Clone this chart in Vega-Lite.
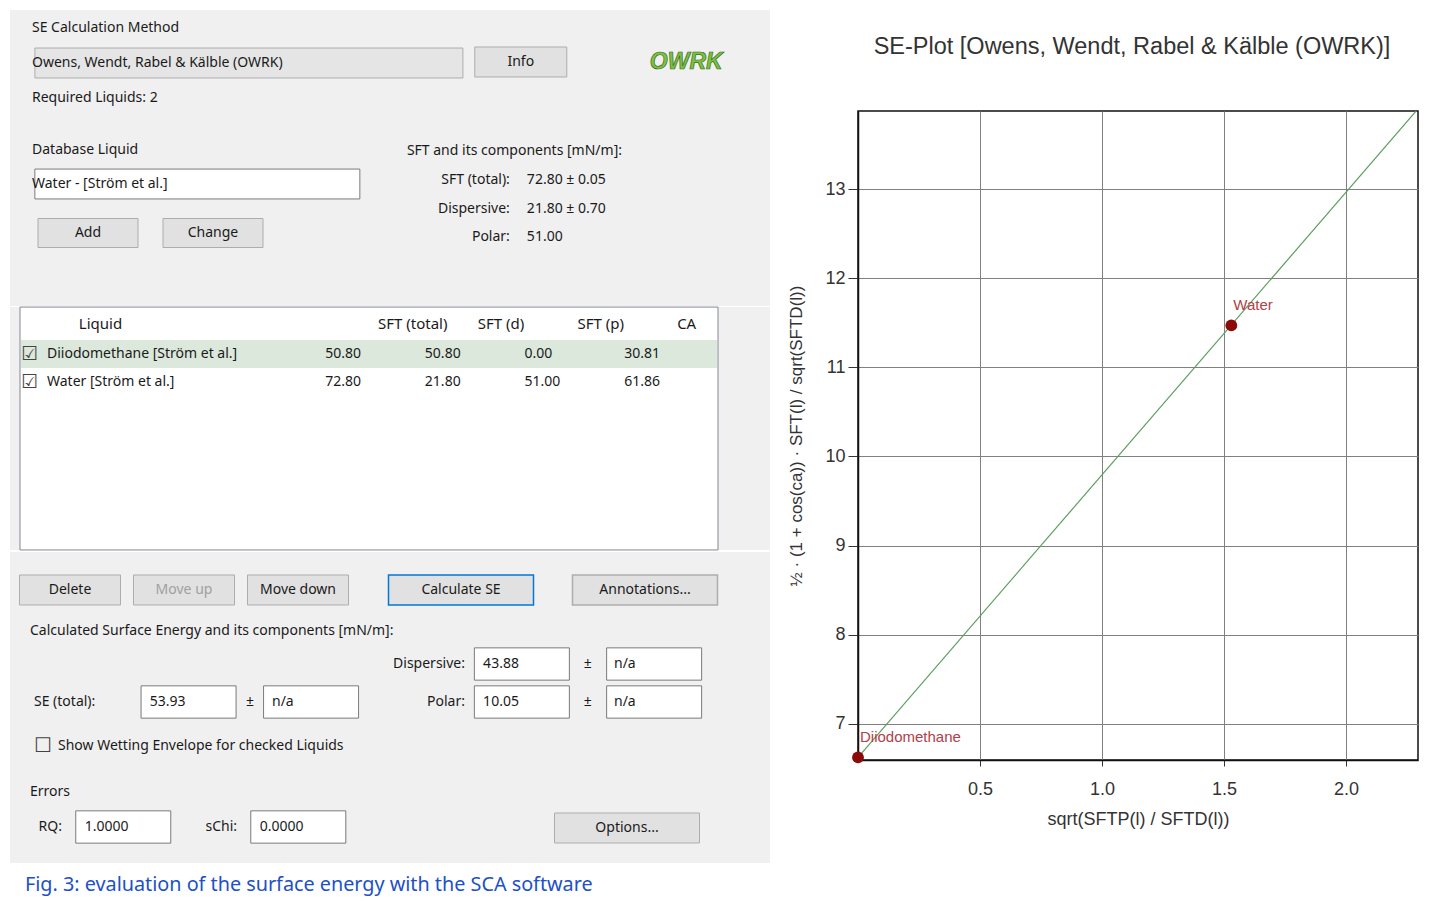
{
  "$schema": "https://vega.github.io/schema/vega-lite/v6.json",
  "background": "white",
  "padding": {"left": 10, "top": 10, "right": 0, "bottom": 6},
  "config": {
    "view": {"stroke": null},
    "text": {"font": "Noto Sans", "fontSize": 14, "color": "#1a1a1a", "baseline": "middle"}
  },
  "title": {
    "text": "Fig. 3: evaluation of the surface energy with the SCA software",
    "orient": "bottom", "anchor": "start", "dx": 15, "offset": 12,
    "font": "Noto Sans", "fontSize": 19.8, "fontWeight": "normal", "color": "#2050c8"
  },
  "datasets": {
    "panels": [
      {"panel": "SE Calculation Method", "side": "left", "text": "SE Calculation Method"},
      {"panel": "SE Calculation Method", "side": "left", "text": "Owens, Wendt, Rabel & Kälble (OWRK)"},
      {"panel": "SE Calculation Method", "side": "left", "text": "Required Liquids: 2"},
      {"panel": "Database Liquid", "side": "left", "text": "Database Liquid"},
      {"panel": "Database Liquid", "side": "left", "text": "Water - [Ström et al.]"}
    ],
    "sft": [
      {"component": "SFT (total):", "value": "72.80 ± 0.05"},
      {"component": "Dispersive:", "value": "21.80 ± 0.70"},
      {"component": "Polar:", "value": "51.00"}
    ],
    "liquids": [
      {"Liquid": "Diiodomethane [Ström et al.]", "SFT (total)": 50.8, "SFT (d)": 50.8, "SFT (p)": 0.0, "CA": 30.81, "checked": true, "selected": true},
      {"Liquid": "Water [Ström et al.]", "SFT (total)": 72.8, "SFT (d)": 21.8, "SFT (p)": 51.0, "CA": 61.86, "checked": true, "selected": false}
    ],
    "se": [
      {"group": "total", "component": "SE (total):", "value": 53.93, "error": "n/a"},
      {"group": "components", "component": "Dispersive:", "value": 43.88, "error": "n/a"},
      {"group": "components", "component": "Polar:", "value": 10.05, "error": "n/a"}
    ],
    "errors": [
      {"metric": "RQ:", "value": 1.0},
      {"metric": "sChi:", "value": 0.0}
    ],
    "listButtons": [
      {"button": "Delete", "enabled": true},
      {"button": "Move up", "enabled": false},
      {"button": "Move down", "enabled": true}
    ],
    "actionButtons": [
      {"button": "Calculate SE", "default": true},
      {"button": "Annotations...", "default": false}
    ],
    "fit": [
      {"x": 0.0, "y": 6.625},
      {"x": 2.3, "y": 13.915}
    ],
    "points": [
      {"liquid": "Diiodomethane", "x": 0.0, "y": 6.625},
      {"liquid": "Water", "x": 1.53, "y": 11.47}
    ]
  },
  "spacing": 17,
  "hconcat": [
    {
      "spacing": -1,
      "vconcat": [
        {
          "width": 760, "height": 296,
          "view": {"fill": "#f0f0f0", "stroke": null},
          "resolve": {"scale": {"x": "independent", "y": "independent"}},
          "layer": [
            {
              "data": {"name": "panels"},
              "transform": [{"filter": "datum.text === 'Owens, Wendt, Rabel & Kälble (OWRK)'"}],
              "mark": {"type": "point", "shape": "M-1,-0.07L1,-0.07L1,0.07L-1,0.07Z", "size": 183184, "filled": true, "fill": "#e5e5e5", "stroke": "#adadad", "strokeWidth": 1, "opacity": 1},
              "encoding": {
                "x": {"field": "side", "type": "nominal", "bandPosition": 0.946, "axis": null,
                      "scale": {"type": "band", "domain": ["left", "right"], "range": [10, 708], "paddingInner": 0.358, "paddingOuter": 0.105, "align": 0}},
                "y": {"field": "text", "type": "nominal", "axis": null,
                      "scale": {"type": "band", "range": [35.3, 70.7], "paddingInner": 0, "paddingOuter": 0}}
              }
            },
            {
              "data": {"name": "panels"},
              "transform": [{"filter": "datum.text === 'Water - [Ström et al.]'"}],
              "mark": {"type": "point", "shape": "M-1,-0.092L1,-0.092L1,0.092L-1,0.092Z", "size": 105625, "filled": true, "fill": "white", "stroke": "#7a7a7a", "strokeWidth": 1, "opacity": 1},
              "encoding": {
                "x": {"field": "side", "type": "nominal", "bandPosition": 0.733, "axis": null,
                      "scale": {"type": "band", "domain": ["left", "right"], "range": [10, 708], "paddingInner": 0.358, "paddingOuter": 0.105, "align": 0}},
                "y": {"field": "text", "type": "nominal", "axis": null,
                      "scale": {"type": "band", "range": [157, 191], "paddingInner": 0, "paddingOuter": 0}}
              }
            },
            {
              "data": {"values": [{"button": "Info"}]},
              "mark": {"type": "point", "shape": "M-1,-0.326L1,-0.326L1,0.326L-1,0.326Z", "size": 8464, "filled": true, "fill": "#e1e1e1", "stroke": "#adadad", "strokeWidth": 1, "opacity": 1},
              "encoding": {
                "x": {"datum": "right", "type": "nominal", "bandPosition": 0.512, "axis": null,
                      "scale": {"type": "band", "domain": ["left", "right"], "range": [10, 708], "paddingInner": 0.358, "paddingOuter": 0.105, "align": 0}},
                "y": {"field": "button", "type": "nominal", "axis": null,
                      "scale": {"type": "band", "range": [37, 67], "paddingInner": 0, "paddingOuter": 0}}
              }
            },
            {
              "data": {"values": [{"button": "Info"}]},
              "mark": {"type": "text", "align": "center"},
              "encoding": {
                "x": {"datum": "right", "type": "nominal", "bandPosition": 0.512, "axis": null,
                      "scale": {"type": "band", "domain": ["left", "right"], "range": [10, 708], "paddingInner": 0.358, "paddingOuter": 0.105, "align": 0}},
                "y": {"field": "button", "type": "nominal", "axis": null,
                      "scale": {"type": "band", "range": [37, 67], "paddingInner": 0, "paddingOuter": 0}},
                "text": {"field": "button"}
              }
            },
            {
              "data": {"values": [{"button": "Add"}, {"button": "Change"}]},
              "mark": {"type": "point", "shape": "M-1,-0.29L1,-0.29L1,0.29L-1,0.29Z", "size": 10000, "filled": true, "fill": "#e1e1e1", "stroke": "#adadad", "strokeWidth": 1, "opacity": 1},
              "encoding": {
                "x": {"field": "button", "type": "nominal", "sort": null, "bandPosition": 0.5, "axis": null,
                      "scale": {"type": "band", "range": [15.5, 265.5], "paddingInner": 0, "paddingOuter": 0}},
                "y": {"datum": "db", "type": "nominal", "axis": null,
                      "scale": {"type": "band", "domain": ["db"], "range": [208, 238], "paddingInner": 0, "paddingOuter": 0}}
              }
            },
            {
              "data": {"values": [{"button": "Add"}, {"button": "Change"}]},
              "mark": {"type": "text", "align": "center"},
              "encoding": {
                "x": {"field": "button", "type": "nominal", "sort": null, "bandPosition": 0.5, "axis": null,
                      "scale": {"type": "band", "range": [15.5, 265.5], "paddingInner": 0, "paddingOuter": 0}},
                "y": {"datum": "db", "type": "nominal", "axis": null,
                      "scale": {"type": "band", "domain": ["db"], "range": [208, 238], "paddingInner": 0, "paddingOuter": 0}},
                "text": {"field": "button"}
              }
            },
            {
              "data": {"name": "panels"},
              "transform": [{"filter": "datum.panel === 'SE Calculation Method'"}],
              "mark": {"type": "text", "align": "left", "dx": 12},
              "encoding": {
                "x": {"field": "side", "type": "nominal", "bandPosition": 0, "axis": null,
                      "scale": {"type": "band", "domain": ["left", "right"], "range": [10, 708], "paddingInner": 0.358, "paddingOuter": 0.105, "align": 0}},
                "y": {"field": "text", "type": "nominal", "sort": null, "axis": null,
                      "scale": {"type": "band", "range": [0, 106], "paddingInner": 0, "paddingOuter": 0}},
                "text": {"field": "text"}
              }
            },
            {
              "data": {"name": "panels"},
              "transform": [{"filter": "datum.panel === 'Database Liquid'"}],
              "mark": {"type": "text", "align": "left", "dx": 12},
              "encoding": {
                "x": {"field": "side", "type": "nominal", "bandPosition": 0, "axis": null,
                      "scale": {"type": "band", "domain": ["left", "right"], "range": [10, 708], "paddingInner": 0.358, "paddingOuter": 0.105, "align": 0}},
                "y": {"field": "text", "type": "nominal", "sort": null, "axis": null,
                      "scale": {"type": "band", "range": [123, 191], "paddingInner": 0, "paddingOuter": 0}},
                "text": {"field": "text"}
              }
            },
            {
              "data": {"values": [{"heading": "SFT and its components [mN/m]:"}]},
              "mark": {"type": "text", "align": "left", "dx": 10},
              "encoding": {
                "x": {"datum": "right", "type": "nominal", "bandPosition": 0, "axis": null,
                      "scale": {"type": "band", "domain": ["left", "right"], "range": [10, 708], "paddingInner": 0.358, "paddingOuter": 0.105, "align": 0}},
                "y": {"field": "heading", "type": "nominal", "axis": null,
                      "scale": {"type": "band", "range": [126, 156], "paddingInner": 0, "paddingOuter": 0}},
                "text": {"field": "heading"}
              }
            },
            {
              "data": {"name": "sft"},
              "mark": {"type": "text", "align": "right", "dx": -8},
              "encoding": {
                "x": {"datum": "right", "type": "nominal", "bandPosition": 0.5, "axis": null,
                      "scale": {"type": "band", "domain": ["left", "right"], "range": [10, 708], "paddingInner": 0.358, "paddingOuter": 0.105, "align": 0}},
                "y": {"field": "component", "type": "nominal", "sort": null, "axis": null,
                      "scale": {"type": "band", "range": [155.75, 241.25], "paddingInner": 0, "paddingOuter": 0}},
                "text": {"field": "component"}
              }
            },
            {
              "data": {"name": "sft"},
              "mark": {"type": "text", "align": "left", "dx": 9},
              "encoding": {
                "x": {"datum": "right", "type": "nominal", "bandPosition": 0.5, "axis": null,
                      "scale": {"type": "band", "domain": ["left", "right"], "range": [10, 708], "paddingInner": 0.358, "paddingOuter": 0.105, "align": 0}},
                "y": {"field": "component", "type": "nominal", "sort": null, "axis": null,
                      "scale": {"type": "band", "range": [155.75, 241.25], "paddingInner": 0, "paddingOuter": 0}},
                "text": {"field": "value"}
              }
            },
            {
              "data": {"values": [{"logo": "OWRK"}]},
              "mark": {"type": "text", "align": "left", "dx": 11, "font": "Liberation Sans", "fontSize": 23,
                       "fontStyle": "italic", "fontWeight": "bold", "color": "#7cc242", "stroke": "#3a6e1c", "strokeWidth": 0.7},
              "encoding": {
                "x": {"datum": "right", "type": "nominal", "bandPosition": 1, "axis": null,
                      "scale": {"type": "band", "domain": ["left", "right"], "range": [10, 708], "paddingInner": 0.358, "paddingOuter": 0.105, "align": 0}},
                "y": {"field": "logo", "type": "nominal", "axis": null,
                      "scale": {"type": "band", "range": [37, 67], "paddingInner": 0, "paddingOuter": 0}},
                "text": {"field": "logo"}
              }
            }
          ]
        },
        {
          "width": 760, "height": 243,
          "view": {"fill": "#f0f0f0", "stroke": null},
          "data": {"name": "liquids"},
          "layer": [
            {
              "transform": [{"filter": "datum.selected"}],
              "mark": {"type": "point", "shape": "M-1,-0.348L1,-0.348L1,0.348L-1,0.348Z", "size": 487204, "filled": true, "fill": "white", "stroke": "#828790", "strokeWidth": 1, "opacity": 1},
              "encoding": {
                "x": {"datum": "SFT (total)", "type": "nominal", "bandPosition": 0.5,
                      "scale": {"type": "band", "domain": ["Liquid", "_pad1", "_pad2", "SFT (total)", "SFT (d)", "SFT (p)", "CA"], "range": [10, 708], "paddingInner": 0, "paddingOuter": 0}}
              }
            },
            {
              "transform": [{"filter": "datum.selected"}],
              "mark": {"type": "point", "shape": "M-1,-0.0402L1,-0.0402L1,0.0402L-1,0.0402Z", "size": 484416, "filled": true, "fill": "#dbe8db", "strokeWidth": 0, "opacity": 1},
              "encoding": {
                "x": {"datum": "SFT (total)", "type": "nominal", "bandPosition": 0.5},
                "y": {"field": "Liquid", "type": "nominal", "sort": null, "axis": null,
                      "scale": {"type": "band", "range": [33, 89], "paddingInner": 0, "paddingOuter": 0}}
              }
            },
            {
              "transform": [{"filter": "datum.checked"}],
              "mark": {"type": "text", "align": "left", "dx": 1, "fontSize": 19, "font": "DejaVu Sans", "color": "#444"},
              "encoding": {
                "x": {"datum": "Liquid", "type": "nominal", "bandPosition": 0},
                "y": {"field": "Liquid", "type": "nominal", "sort": null, "axis": null},
                "text": {"value": "☑"}
              }
            },
            {
              "mark": {"type": "text", "align": "left", "dx": 27},
              "encoding": {
                "x": {"datum": "Liquid", "type": "nominal", "bandPosition": 0},
                "y": {"field": "Liquid", "type": "nominal", "sort": null, "axis": null},
                "text": {"field": "Liquid"}
              }
            },
            {
              "transform": [{"fold": ["SFT (total)", "SFT (d)", "SFT (p)", "CA"], "as": ["column", "val"]}],
              "mark": {"type": "text", "align": "left", "dx": 6},
              "encoding": {
                "x": {"field": "column", "type": "nominal", "bandPosition": 0,
                      "scale": {"type": "band", "domain": ["Liquid", "_pad1", "_pad2", "SFT (total)", "SFT (d)", "SFT (p)", "CA"], "range": [10, 708], "paddingInner": 0, "paddingOuter": 0},
                      "axis": {"orient": "top", "values": ["Liquid", "SFT (total)", "SFT (d)", "SFT (p)", "CA"], "bandPosition": 0, "zindex": 2,
                               "labelAlign": "left", "labelBaseline": "middle", "labelAngle": 0, "labelPadding": -16, "labelOffset": 9,
                               "ticks": false, "domain": false, "title": null, "labelFont": "Noto Sans", "labelFontSize": 15, "labelColor": "#1a1a1a"}},
                "y": {"field": "Liquid", "type": "nominal", "sort": null, "axis": null},
                "text": {"field": "val", "type": "quantitative", "format": ".2f"}
              }
            }
          ]
        },
        {
          "width": 760, "height": 311,
          "view": {"fill": "#f0f0f0", "stroke": null},
          "resolve": {"scale": {"x": "independent", "y": "independent"}},
          "layer": [
            {
              "data": {"name": "listButtons"},
              "mark": {"type": "point", "shape": "M-1,-0.297L1,-0.297L1,0.297L-1,0.297Z", "size": 10201, "filled": true, "fill": "#e1e1e1", "stroke": "#adadad", "strokeWidth": 1, "opacity": 1},
              "encoding": {
                "x": {"field": "button", "type": "nominal", "sort": null, "bandPosition": 0.5, "axis": null, "scale": {"type": "band", "range": [3, 345], "paddingInner": 0, "paddingOuter": 0}},
                "y": {"datum": "buttons", "type": "nominal", "axis": null, "scale": {"type": "band", "domain": ["buttons"], "range": [23, 53], "paddingInner": 0, "paddingOuter": 0}}
              }
            },
            {
              "data": {"name": "listButtons"},
              "mark": {"type": "text", "align": "center"},
              "encoding": {
                "x": {"field": "button", "type": "nominal", "sort": null, "bandPosition": 0.5, "axis": null, "scale": {"type": "band", "range": [3, 345], "paddingInner": 0, "paddingOuter": 0}},
                "y": {"datum": "buttons", "type": "nominal", "axis": null, "scale": {"type": "band", "domain": ["buttons"], "range": [23, 53], "paddingInner": 0, "paddingOuter": 0}},
                "text": {"field": "button"},
                "color": {"condition": {"test": "datum.enabled === false", "value": "#a0a0a0"}, "value": "#1a1a1a"}
              }
            },
            {
              "data": {"name": "actionButtons"},
              "mark": {"type": "point", "shape": "M-1,-0.207L1,-0.207L1,0.207L-1,0.207Z", "size": 21025, "filled": true, "fill": "#e1e1e1", "strokeWidth": 1.5, "opacity": 1},
              "encoding": {
                "x": {"field": "button", "type": "nominal", "sort": null, "bandPosition": 0.5, "axis": null, "scale": {"type": "band", "range": [359, 727], "paddingInner": 0, "paddingOuter": 0}},
                "y": {"datum": "buttons", "type": "nominal", "axis": null, "scale": {"type": "band", "domain": ["buttons"], "range": [23, 53], "paddingInner": 0, "paddingOuter": 0}},
                "stroke": {"condition": {"test": "datum['default'] === true", "value": "#0078d7"}, "value": "#adadad"}
              }
            },
            {
              "data": {"name": "actionButtons"},
              "mark": {"type": "text", "align": "center"},
              "encoding": {
                "x": {"field": "button", "type": "nominal", "sort": null, "bandPosition": 0.5, "axis": null, "scale": {"type": "band", "range": [359, 727], "paddingInner": 0, "paddingOuter": 0}},
                "y": {"datum": "buttons", "type": "nominal", "axis": null, "scale": {"type": "band", "domain": ["buttons"], "range": [23, 53], "paddingInner": 0, "paddingOuter": 0}},
                "text": {"field": "button"}
              }
            },
            {
              "data": {"values": [{"button": "Options..."}]},
              "mark": {"type": "point", "shape": "M-1,-0.207L1,-0.207L1,0.207L-1,0.207Z", "size": 21025, "filled": true, "fill": "#e1e1e1", "stroke": "#adadad", "strokeWidth": 1, "opacity": 1},
              "encoding": {
                "x": {"field": "button", "type": "nominal", "bandPosition": 0.5, "axis": null, "scale": {"type": "band", "range": [544, 690], "paddingInner": 0, "paddingOuter": 0}},
                "y": {"field": "button", "type": "nominal", "axis": null, "scale": {"type": "band", "range": [261, 291], "paddingInner": 0, "paddingOuter": 0}}
              }
            },
            {
              "data": {"values": [{"button": "Options..."}]},
              "mark": {"type": "text", "align": "center"},
              "encoding": {
                "x": {"field": "button", "type": "nominal", "bandPosition": 0.5, "axis": null, "scale": {"type": "band", "range": [544, 690], "paddingInner": 0, "paddingOuter": 0}},
                "y": {"field": "button", "type": "nominal", "axis": null, "scale": {"type": "band", "range": [261, 291], "paddingInner": 0, "paddingOuter": 0}},
                "text": {"field": "button"}
              }
            },
            {
              "data": {"name": "se"},
              "transform": [{"filter": "datum.group === 'components'"}],
              "mark": {"type": "point", "shape": "M-1,-0.34L1,-0.34L1,0.34L-1,0.34Z", "size": 9025, "filled": true, "fill": "white", "stroke": "#7a7a7a", "strokeWidth": 1, "opacity": 1},
              "encoding": {
                "x": {"field": "group", "type": "nominal", "bandPosition": 0.438, "axis": null, "scale": {"type": "band", "domain": ["total", "components"], "range": [10, 708], "paddingInner": 0, "paddingOuter": 0}},
                "y": {"field": "component", "type": "nominal", "sort": null, "axis": null, "scale": {"type": "band", "range": [93, 169], "paddingInner": 0, "paddingOuter": 0}}
              }
            },
            {
              "data": {"name": "se"},
              "transform": [{"filter": "datum.group === 'components'"}],
              "mark": {"type": "point", "shape": "M-1,-0.34L1,-0.34L1,0.34L-1,0.34Z", "size": 9025, "filled": true, "fill": "white", "stroke": "#7a7a7a", "strokeWidth": 1, "opacity": 1},
              "encoding": {
                "x": {"field": "group", "type": "nominal", "bandPosition": 0.817, "axis": null, "scale": {"type": "band", "domain": ["total", "components"], "range": [10, 708], "paddingInner": 0, "paddingOuter": 0}},
                "y": {"field": "component", "type": "nominal", "sort": null, "axis": null, "scale": {"type": "band", "range": [93, 169], "paddingInner": 0, "paddingOuter": 0}}
              }
            },
            {
              "data": {"name": "se"},
              "transform": [{"filter": "datum.group === 'total'"}],
              "mark": {"type": "point", "shape": "M-1,-0.34L1,-0.34L1,0.34L-1,0.34Z", "size": 9025, "filled": true, "fill": "white", "stroke": "#7a7a7a", "strokeWidth": 1, "opacity": 1},
              "encoding": {
                "x": {"field": "group", "type": "nominal", "bandPosition": 0.483, "axis": null, "scale": {"type": "band", "domain": ["total", "components"], "range": [10, 708], "paddingInner": 0, "paddingOuter": 0}},
                "y": {"field": "component", "type": "nominal", "axis": null, "scale": {"type": "band", "range": [131, 169], "paddingInner": 0, "paddingOuter": 0}}
              }
            },
            {
              "data": {"name": "se"},
              "transform": [{"filter": "datum.group === 'total'"}],
              "mark": {"type": "point", "shape": "M-1,-0.34L1,-0.34L1,0.34L-1,0.34Z", "size": 9025, "filled": true, "fill": "white", "stroke": "#7a7a7a", "strokeWidth": 1, "opacity": 1},
              "encoding": {
                "x": {"field": "group", "type": "nominal", "bandPosition": 0.834, "axis": null, "scale": {"type": "band", "domain": ["total", "components"], "range": [10, 708], "paddingInner": 0, "paddingOuter": 0}},
                "y": {"field": "component", "type": "nominal", "axis": null, "scale": {"type": "band", "range": [131, 169], "paddingInner": 0, "paddingOuter": 0}}
              }
            },
            {
              "data": {"name": "errors"},
              "mark": {"type": "point", "shape": "M-1,-0.34L1,-0.34L1,0.34L-1,0.34Z", "size": 9025, "filled": true, "fill": "white", "stroke": "#7a7a7a", "strokeWidth": 1, "opacity": 1},
              "encoding": {
                "x": {"field": "metric", "type": "nominal", "bandPosition": 0.59, "axis": null, "sort": null, "scale": {"type": "band", "range": [10, 708], "paddingInner": 0, "paddingOuter": 0.994, "align": 0}},
                "y": {"datum": "errors", "type": "nominal", "axis": null, "scale": {"type": "band", "domain": ["errors"], "range": [260, 290], "paddingInner": 0, "paddingOuter": 0}}
              }
            },
            {
              "data": {"values": [{"heading": "Calculated Surface Energy and its components [mN/m]:"}]},
              "mark": {"type": "text", "align": "left", "dx": 10},
              "encoding": {
                "x": {"datum": "total", "type": "nominal", "bandPosition": 0, "axis": null, "scale": {"type": "band", "domain": ["total", "components"], "range": [10, 708], "paddingInner": 0, "paddingOuter": 0}},
                "y": {"field": "heading", "type": "nominal", "axis": null, "scale": {"type": "band", "range": [64, 94], "paddingInner": 0, "paddingOuter": 0}},
                "text": {"field": "heading"}
              }
            },
            {
              "data": {"name": "se"},
              "transform": [{"filter": "datum.group === 'components'"}],
              "mark": {"type": "text", "align": "right"},
              "encoding": {
                "x": {"field": "group", "type": "nominal", "bandPosition": 0.275, "axis": null, "scale": {"type": "band", "domain": ["total", "components"], "range": [10, 708], "paddingInner": 0, "paddingOuter": 0}},
                "y": {"field": "component", "type": "nominal", "sort": null, "axis": null, "scale": {"type": "band", "range": [93, 169], "paddingInner": 0, "paddingOuter": 0}},
                "text": {"field": "component"}
              }
            },
            {
              "data": {"name": "se"},
              "transform": [{"filter": "datum.group === 'components'"}],
              "mark": {"type": "text", "align": "left"},
              "encoding": {
                "x": {"field": "group", "type": "nominal", "bandPosition": 0.327, "axis": null, "scale": {"type": "band", "domain": ["total", "components"], "range": [10, 708], "paddingInner": 0, "paddingOuter": 0}},
                "y": {"field": "component", "type": "nominal", "sort": null, "axis": null, "scale": {"type": "band", "range": [93, 169], "paddingInner": 0, "paddingOuter": 0}},
                "text": {"field": "value", "type": "quantitative", "format": ".2f"}
              }
            },
            {
              "data": {"name": "se"},
              "transform": [{"filter": "datum.group === 'components'"}],
              "mark": {"type": "text", "align": "center"},
              "encoding": {
                "x": {"field": "group", "type": "nominal", "bandPosition": 0.627, "axis": null, "scale": {"type": "band", "domain": ["total", "components"], "range": [10, 708], "paddingInner": 0, "paddingOuter": 0}},
                "y": {"field": "component", "type": "nominal", "sort": null, "axis": null, "scale": {"type": "band", "range": [93, 169], "paddingInner": 0, "paddingOuter": 0}},
                "text": {"value": "±"}
              }
            },
            {
              "data": {"name": "se"},
              "transform": [{"filter": "datum.group === 'components'"}],
              "mark": {"type": "text", "align": "left"},
              "encoding": {
                "x": {"field": "group", "type": "nominal", "bandPosition": 0.702, "axis": null, "scale": {"type": "band", "domain": ["total", "components"], "range": [10, 708], "paddingInner": 0, "paddingOuter": 0}},
                "y": {"field": "component", "type": "nominal", "sort": null, "axis": null, "scale": {"type": "band", "range": [93, 169], "paddingInner": 0, "paddingOuter": 0}},
                "text": {"field": "error"}
              }
            },
            {
              "data": {"name": "se"},
              "transform": [{"filter": "datum.group === 'total'"}],
              "mark": {"type": "text", "align": "left", "dx": 14},
              "encoding": {
                "x": {"field": "group", "type": "nominal", "bandPosition": 0, "axis": null, "scale": {"type": "band", "domain": ["total", "components"], "range": [10, 708], "paddingInner": 0, "paddingOuter": 0}},
                "y": {"field": "component", "type": "nominal", "axis": null, "scale": {"type": "band", "range": [131, 169], "paddingInner": 0, "paddingOuter": 0}},
                "text": {"field": "component"}
              }
            },
            {
              "data": {"name": "se"},
              "transform": [{"filter": "datum.group === 'total'"}],
              "mark": {"type": "text", "align": "left"},
              "encoding": {
                "x": {"field": "group", "type": "nominal", "bandPosition": 0.372, "axis": null, "scale": {"type": "band", "domain": ["total", "components"], "range": [10, 708], "paddingInner": 0, "paddingOuter": 0}},
                "y": {"field": "component", "type": "nominal", "axis": null, "scale": {"type": "band", "range": [131, 169], "paddingInner": 0, "paddingOuter": 0}},
                "text": {"field": "value", "type": "quantitative", "format": ".2f"}
              }
            },
            {
              "data": {"name": "se"},
              "transform": [{"filter": "datum.group === 'total'"}],
              "mark": {"type": "text", "align": "center"},
              "encoding": {
                "x": {"field": "group", "type": "nominal", "bandPosition": 0.659, "axis": null, "scale": {"type": "band", "domain": ["total", "components"], "range": [10, 708], "paddingInner": 0, "paddingOuter": 0}},
                "y": {"field": "component", "type": "nominal", "axis": null, "scale": {"type": "band", "range": [131, 169], "paddingInner": 0, "paddingOuter": 0}},
                "text": {"value": "±"}
              }
            },
            {
              "data": {"name": "se"},
              "transform": [{"filter": "datum.group === 'total'"}],
              "mark": {"type": "text", "align": "left"},
              "encoding": {
                "x": {"field": "group", "type": "nominal", "bandPosition": 0.722, "axis": null, "scale": {"type": "band", "domain": ["total", "components"], "range": [10, 708], "paddingInner": 0, "paddingOuter": 0}},
                "y": {"field": "component", "type": "nominal", "axis": null, "scale": {"type": "band", "range": [131, 169], "paddingInner": 0, "paddingOuter": 0}},
                "text": {"field": "error"}
              }
            },
            {
              "data": {"values": [{"option": "Show Wetting Envelope for checked Liquids", "checked": false}]},
              "mark": {"type": "text", "align": "left", "dx": 14, "font": "DejaVu Sans", "fontSize": 20, "color": "#444"},
              "encoding": {
                "x": {"datum": "total", "type": "nominal", "bandPosition": 0, "axis": null, "scale": {"type": "band", "domain": ["total", "components"], "range": [10, 708], "paddingInner": 0, "paddingOuter": 0}},
                "y": {"field": "option", "type": "nominal", "axis": null, "scale": {"type": "band", "range": [179, 209], "paddingInner": 0, "paddingOuter": 0}},
                "text": {"value": "☐"}
              }
            },
            {
              "data": {"values": [{"option": "Show Wetting Envelope for checked Liquids", "checked": false}]},
              "mark": {"type": "text", "align": "left", "dx": 38},
              "encoding": {
                "x": {"datum": "total", "type": "nominal", "bandPosition": 0, "axis": null, "scale": {"type": "band", "domain": ["total", "components"], "range": [10, 708], "paddingInner": 0, "paddingOuter": 0}},
                "y": {"field": "option", "type": "nominal", "axis": null, "scale": {"type": "band", "range": [179, 209], "paddingInner": 0, "paddingOuter": 0}},
                "text": {"field": "option"}
              }
            },
            {
              "data": {"values": [{"heading": "Errors"}]},
              "mark": {"type": "text", "align": "left", "dx": 10},
              "encoding": {
                "x": {"datum": "total", "type": "nominal", "bandPosition": 0, "axis": null, "scale": {"type": "band", "domain": ["total", "components"], "range": [10, 708], "paddingInner": 0, "paddingOuter": 0}},
                "y": {"field": "heading", "type": "nominal", "axis": null, "scale": {"type": "band", "range": [225, 255], "paddingInner": 0, "paddingOuter": 0}},
                "text": {"field": "heading"}
              }
            },
            {
              "data": {"name": "errors"},
              "mark": {"type": "text", "align": "right"},
              "encoding": {
                "x": {"field": "metric", "type": "nominal", "bandPosition": 0.24, "axis": null, "sort": null, "scale": {"type": "band", "range": [10, 708], "paddingInner": 0, "paddingOuter": 0.994, "align": 0}},
                "y": {"datum": "errors", "type": "nominal", "axis": null, "scale": {"type": "band", "domain": ["errors"], "range": [260, 290], "paddingInner": 0, "paddingOuter": 0}},
                "text": {"field": "metric"}
              }
            },
            {
              "data": {"name": "errors"},
              "mark": {"type": "text", "align": "left"},
              "encoding": {
                "x": {"field": "metric", "type": "nominal", "bandPosition": 0.37, "axis": null, "sort": null, "scale": {"type": "band", "range": [10, 708], "paddingInner": 0, "paddingOuter": 0.994, "align": 0}},
                "y": {"datum": "errors", "type": "nominal", "axis": null, "scale": {"type": "band", "domain": ["errors"], "range": [260, 290], "paddingInner": 0, "paddingOuter": 0}},
                "text": {"field": "value", "type": "quantitative", "format": ".4f"}
              }
            }
          ]
        }
      ]
    },
    {
      "spacing": 27,
      "bounds": "flush",
      "vconcat": [
        {
          "width": 560, "height": 74,
          "data": {"values": [{"title": "SE-Plot [Owens, Wendt, Rabel & Kälble (OWRK)]"}]},
          "mark": {"type": "text", "font": "Liberation Sans", "fontSize": 23.5, "color": "#333", "baseline": "middle", "dx": -6},
          "encoding": {"text": {"field": "title"}}
        },
        {
          "width": 560, "height": 649,
          "view": {"fill": "white", "stroke": "#111", "strokeWidth": 1.5},
          "resolve": {"axis": {"x": "independent", "y": "independent"}},
          "layer": [
            {
              "data": {"name": "fit"},
              "mark": {"type": "line", "color": "#5c9e5c", "strokeWidth": 1.2, "clip": true},
              "encoding": {
                "x": {"field": "x", "type": "quantitative",
                      "scale": {"domain": [0, 2.295], "nice": false, "zero": false},
                      "axis": {"title": "sqrt(SFTP(l) / SFTD(l))", "values": [0.5, 1, 1.5, 2], "format": ".1f",
                               "grid": true, "gridColor": "#808080", "gridOpacity": 1, "gridWidth": 1,
                               "domainColor": "#111", "domainWidth": 1.5, "tickColor": "#333", "tickSize": 6,
                               "labelFont": "Liberation Sans", "labelFontSize": 18, "labelColor": "#333", "labelPadding": 14,
                               "titleFont": "Liberation Sans", "titleFontSize": 18, "titleFontWeight": "normal", "titleColor": "#333", "titlePadding": 12}},
                "y": {"field": "y", "type": "quantitative",
                      "scale": {"domain": [6.596, 13.875], "nice": false, "zero": false},
                      "axis": {"title": "½ · (1 + cos(ca)) · SFT(l) / sqrt(SFTD(l))", "values": [7, 8, 9, 10, 11, 12, 13],
                               "grid": true, "gridColor": "#808080", "gridOpacity": 1, "gridWidth": 1,
                               "domainColor": "#111", "domainWidth": 1.5, "tickColor": "#333", "tickSize": 10,
                               "labelFont": "Liberation Sans", "labelFontSize": 18, "labelColor": "#333", "labelPadding": 3,
                               "titleFont": "Liberation Sans", "titleFontSize": 17, "titleFontWeight": "normal", "titleColor": "#333", "titlePadding": 19}}
              }
            },
            {
              "data": {"name": "points"},
              "mark": {"type": "circle", "color": "#8b0a0a", "opacity": 1, "size": 140},
              "encoding": {
                "x": {"field": "x", "type": "quantitative", "axis": null},
                "y": {"field": "y", "type": "quantitative", "axis": null}
              }
            },
            {
              "data": {"name": "points"},
              "mark": {"type": "text", "align": "left", "baseline": "middle", "dx": 2, "dy": -20,
                       "font": "Liberation Sans", "fontSize": 15, "color": "#b0404a"},
              "encoding": {
                "x": {"field": "x", "type": "quantitative", "axis": null},
                "y": {"field": "y", "type": "quantitative", "axis": null},
                "text": {"field": "liquid"}
              }
            }
          ]
        }
      ]
    }
  ]
}
